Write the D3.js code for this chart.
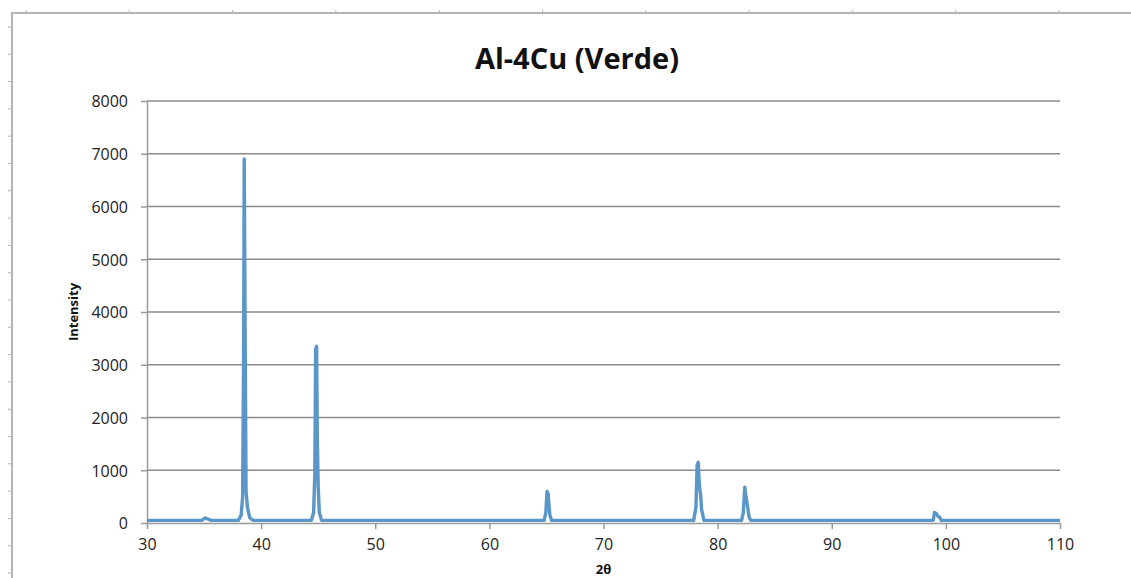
<!DOCTYPE html>
<html>
<head>
<meta charset="utf-8">
<script src="https://cdn.jsdelivr.net/npm/d3@7"></script>
<style>
  html, body { margin: 0; padding: 0; background: #fff; }
  #xrdChart { width: 1131px; height: 578px; overflow: hidden; }
  .grid-line { stroke: #8a8a8a; stroke-width: 1.3; }
  .axis-g path, .axis-g line { stroke: #9a9a9a; stroke-width: 1.5; }
  .axis-g text { font-family: "Open Sans", sans-serif; font-size: 16px; fill: #222; }
</style>
</head>
<body>
<div id="xrdChart"></div>
<script>
const title = "Al-4Cu (Verde)";
const xLabel = "2θ";
const yLabel = "Intensity";
const xTicks = [30, 40, 50, 60, 70, 80, 90, 100, 110];
const yTicks = [0, 1000, 2000, 3000, 4000, 5000, 6000, 7000, 8000];

// 2θ positions and counts
const twoTheta = [
  30, 34.8, 35.1, 35.3, 35.6,
  38.0, 38.25, 38.38, 38.46, 38.52, 38.6, 38.68, 38.8, 39.0, 39.3,
  44.4, 44.6, 44.7, 44.78, 44.86, 44.93, 45.0, 45.1, 45.3,
  64.8, 64.95, 65.05, 65.15, 65.22, 65.3, 65.45,
  77.9, 78.1, 78.2, 78.3, 78.4, 78.5, 78.6, 78.8,
  82.1, 82.25, 82.38, 82.48, 82.6, 82.75, 82.9,
  98.9, 99.0, 99.15, 99.3, 99.45, 99.6, 110,
];
const intensity = [
  50, 50, 95, 80, 50,
  50, 150, 500, 3000, 6900, 3500, 600, 300, 100, 50,
  50, 200, 900, 3300, 3350, 1500, 700, 200, 50,
  50, 200, 600, 550, 350, 150, 50,
  50, 300, 1100, 1150, 700, 550, 250, 50,
  50, 200, 680, 500, 350, 120, 50,
  50, 200, 180, 130, 110, 50, 50,
];

class XrdLine {
  constructor({ el }) {
    this.el = el;
    this.init();
  }

  init() {
    this.setup();
    this.scaffold();
    this.render();
  }

  setup() {
    this.width = 1131;
    this.height = 578;
    this.marginLeft = 147;
    this.marginRight = 71;
    this.marginTop = 101;
    this.marginBottom = 55;
    this.lineColor = "#5b96c9";
    this.formatTick = d3.format("d");

    this.x = d3.scaleLinear().domain([30, 110]).range([this.marginLeft, this.width - this.marginRight]);
    this.y = d3.scaleLinear().domain([0, 8000]).range([this.height - this.marginBottom, this.marginTop]);
    this.points = twoTheta.map((t, i) => [t, intensity[i]]);
  }

  scaffold() {
    this.svg = d3.select(this.el).append("svg")
      .attr("width", this.width).attr("height", this.height)
      .attr("viewBox", [0, 0, this.width, this.height]);
    this.frameG = this.svg.append("g");
    this.gridG = this.svg.append("g");
    this.xAxisG = this.svg.append("g").attr("class", "axis-g");
    this.yAxisG = this.svg.append("g").attr("class", "axis-g");
    this.lineG = this.svg.append("g");
    this.labelsG = this.svg.append("g");
  }

  render() {
    this.renderFrame();
    this.renderGrid();
    this.renderAxes();
    this.renderLine();
    this.renderLabels();
  }

  renderFrame() {
    const c = "#b4b4b4";
    this.frameG.append("path")
      .attr("d", `M12,${this.height} V13 H${this.width}`)
      .attr("fill", "none").attr("stroke", c).attr("stroke-width", 2);
    this.frameG.selectAll(".tick-top").data(d3.range(26, this.width, 103.3)).join("line")
      .attr("x1", (d) => d).attr("x2", (d) => d).attr("y1", 10).attr("y2", 13)
      .attr("stroke", c).attr("stroke-width", 1);
    this.frameG.selectAll(".tick-left").data(d3.range(27, this.height, 27.3)).join("line")
      .attr("x1", 8).attr("x2", 12).attr("y1", (d) => d).attr("y2", (d) => d)
      .attr("stroke", c).attr("stroke-width", 1);
  }

  renderGrid() {
    this.gridG.selectAll("line").data(yTicks.filter((d) => d > 0)).join("line")
      .attr("class", "grid-line")
      .attr("x1", this.marginLeft).attr("x2", this.x(110))
      .attr("y1", (d) => this.y(d)).attr("y2", (d) => this.y(d));
  }

  renderAxes() {
    this.xAxisG.attr("transform", `translate(0,${this.y(0)})`)
      .call(d3.axisBottom(this.x).tickValues(xTicks).tickFormat(this.formatTick).tickSize(6).tickSizeOuter(0).tickPadding(10));
    this.yAxisG.attr("transform", `translate(${this.marginLeft},0)`)
      .call(d3.axisLeft(this.y).tickValues(yTicks).tickFormat(this.formatTick).tickSize(6).tickSizeOuter(0).tickPadding(13));
    this.yAxisG.selectAll("text").attr("dy", "0.36em");
  }

  renderLine() {
    const line = d3.line().x((d) => this.x(d[0])).y((d) => this.y(d[1]));
    this.lineG.append("path")
      .datum(this.points)
      .attr("d", line)
      .attr("fill", "none")
      .attr("stroke", this.lineColor)
      .attr("stroke-width", 3.4)
      .attr("stroke-linejoin", "round");
  }

  renderLabels() {
    this.labelsG.append("text")
      .attr("x", 577).attr("y", 57)
      .attr("text-anchor", "middle").attr("dominant-baseline", "central")
      .attr("font-family", "Open Sans, sans-serif").attr("font-weight", "bold")
      .attr("font-size", 29).attr("fill", "#111")
      .text(title);
    this.labelsG.append("text")
      .attr("x", (this.x(30) + this.x(110)) / 2).attr("y", 569)
      .attr("text-anchor", "middle").attr("dominant-baseline", "central")
      .attr("font-family", "Open Sans, sans-serif").attr("font-weight", "bold")
      .attr("font-size", 13).attr("fill", "#111")
      .text(xLabel);
    this.labelsG.append("text")
      .attr("transform", `translate(73,312)rotate(-90)`)
      .attr("text-anchor", "middle").attr("dominant-baseline", "central")
      .attr("font-family", "Open Sans, sans-serif").attr("font-weight", "bold")
      .attr("font-size", 13).attr("fill", "#111")
      .text(yLabel);
  }
}

const chart = new XrdLine({ el: document.getElementById("xrdChart") });
</script>
</body>
</html>
